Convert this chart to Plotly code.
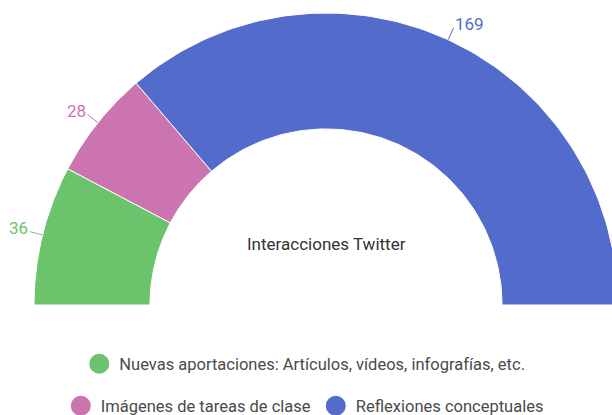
import numpy as np
import plotly.graph_objects as go

categories = [
    "Nuevas aportaciones: Artículos, vídeos, infografías, etc.",
    "Imágenes de tareas de clase",
    "Reflexiones conceptuales",
]
values = [36, 28, 169]
colors = ["#6bc46b", "#cb74b0", "#536ccb"]
title_text = "Interacciones Twitter"

R_OUT = 1.0
R_IN = 0.603
LEADER = 0.045
FONT = "Roboto, Arial, sans-serif"

total = float(sum(values))
fig = go.Figure()
annotations = []

start = 180.0
for cat, v, c in zip(categories, values, colors):
    span = v / total * 180.0
    end = start - span
    th = np.radians(np.linspace(start, end, 120))
    xs = np.concatenate([R_OUT * np.cos(th), R_IN * np.cos(th[::-1])])
    ys = np.concatenate([R_OUT * np.sin(th), R_IN * np.sin(th[::-1])])
    xs = np.append(xs, xs[0])
    ys = np.append(ys, ys[0])
    fig.add_trace(go.Scatter(
        x=xs, y=ys, mode="lines", fill="toself", fillcolor=c,
        line=dict(color="white", width=1), showlegend=False,
        hoverinfo="text", text=f"{cat}: {v}",
    ))
    mid = np.radians((start + end) / 2.0)
    x0, y0 = R_OUT * np.cos(mid), R_OUT * np.sin(mid)
    x1, y1 = (R_OUT + LEADER) * np.cos(mid), (R_OUT + LEADER) * np.sin(mid)
    fig.add_trace(go.Scatter(
        x=[x0, x1], y=[y0, y1], mode="lines",
        line=dict(color=c, width=1), showlegend=False, hoverinfo="skip",
    ))
    left = np.cos(mid) < 0
    annotations.append(dict(
        x=x1, y=y1, xref="x", yref="y", text=str(v), showarrow=False,
        xanchor="right" if left else "left", yanchor="middle",
        xshift=0 if left else -1, yshift=4,
        font=dict(family=FONT, size=17, color=c),
    ))
    start = end

# legend-only entries
for i, (cat, c) in enumerate(zip(categories, colors)):
    fig.add_trace(go.Scatter(
        x=[None], y=[None], mode="markers", name=cat,
        marker=dict(symbol="circle", size=16, color=c, line=dict(color=c, width=4)),
        legend="legend" if i == 0 else "legend2",
    ))

annotations.append(dict(
    x=0, y=1 - 244 / 415, xref="x", yref="paper", text=title_text,
    showarrow=False, xanchor="center", yanchor="middle",
    font=dict(family=FONT, size=17, color="#333333"),
))

legend_common = dict(
    orientation="h", xanchor="center", yanchor="middle",
    font=dict(family=FONT, size=16.5, color="#4a4a4a"),
    bgcolor="rgba(0,0,0,0)",
)

fig.update_layout(
    width=612, height=415,
    margin=dict(l=0, r=0, t=0, b=0, autoexpand=False),
    paper_bgcolor="white", plot_bgcolor="white",
    xaxis=dict(range=[-326 / 292, (612 - 326) / 292], visible=False, fixedrange=True),
    yaxis=dict(range=[-110 / 292, 305 / 292], visible=False, fixedrange=True),
    legend=dict(x=0.498, y=1 - 364 / 415, **legend_common),
    legend2=dict(x=0.498, y=1 - 406 / 415, **legend_common),
    annotations=annotations,
    font=dict(family=FONT),
)

fig.write_html(
    "out.html",
    config={"displayModeBar": False},
    post_script="document.body.style.margin='0';",
)
